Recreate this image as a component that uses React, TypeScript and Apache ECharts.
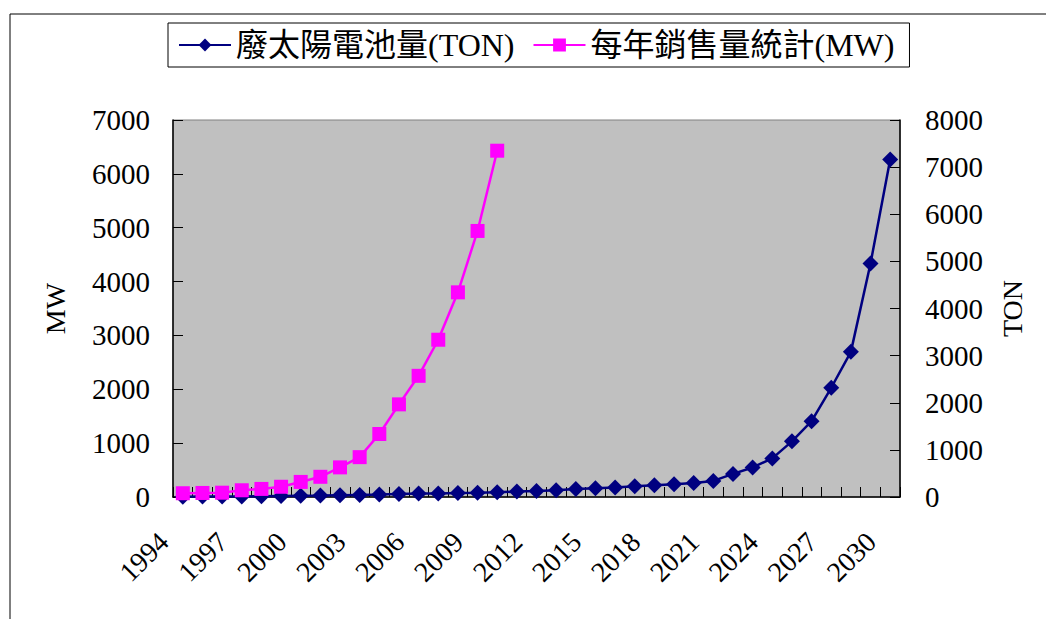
import React, { useEffect, useRef } from "react";
import * as echarts from "echarts";

const years: string[] = [
  "1994","1995","1996","1997","1998","1999","2000","2001","2002","2003",
  "2004","2005","2006","2007","2008","2009","2010","2011","2012","2013",
  "2014","2015","2016","2017","2018","2019","2020","2021","2022","2023",
  "2024","2025","2026","2027","2028","2029","2030",
];

// 每年銷售量統計 (MW), 1994-2010
const salesMW: number[] = [
  70, 75, 80, 125, 150, 190, 280, 375, 550, 740, 1170, 1720, 2250, 2920, 3800, 4940, 6430,
];

// 廢太陽電池量 (TON), 1994-2030
const wasteTON: number[] = [
  5, 8, 10, 12, 15, 20, 25, 30, 38, 45, 52, 62,
  72, 75, 85, 90, 100, 115, 128, 143, 171, 185, 200, 228,
  250, 271, 299, 341, 490, 627, 819, 1181, 1608, 2318, 3080, 4955, 7164,
];

const leftTicks = { min: 0, max: 7000, interval: 1000 };
const rightTicks = { min: 0, max: 8000, interval: 1000 };

const FONT = "'Liberation Serif', 'Times New Roman', 'Noto Sans CJK TC', serif";

export default function App() {
  const ref = useRef<HTMLDivElement>(null);
  useEffect(() => {
    if (!ref.current) return;
    const chart = echarts.init(ref.current, undefined, { renderer: "svg" });
    const axisLine = { show: true, lineStyle: { color: "#000", width: 1.5 } };
    const plain = (v: number) => String(v);
    chart.setOption({
      animation: false,
      textStyle: { fontFamily: FONT, color: "#000" },
      graphic: [
        { type: "line", shape: { x1: 2, y1: 6, x2: 1046, y2: 6 }, style: { stroke: "#000", lineWidth: 1 } },
        { type: "line", shape: { x1: 2, y1: 6, x2: 2, y2: 611 }, style: { stroke: "#000", lineWidth: 1 } },
      ],
      legend: {
        left: 160,
        top: 15,
        padding: [6, 15, 6, 10],
        backgroundColor: "#fff",
        borderColor: "#000",
        borderWidth: 1,
        itemWidth: 52,
        itemHeight: 16,
        itemGap: 18,
        textStyle: { fontFamily: FONT, fontSize: 32, color: "#000" },
        data: ["廢太陽電池量(TON)", "每年銷售量統計(MW)"],
      },
      grid: {
        left: 165,
        top: 112,
        right: 154,
        bottom: 122,
        show: true,
        backgroundColor: "#C0C0C0",
        borderColor: "#808080",
        borderWidth: 1,
      },
      xAxis: {
        type: "category",
        data: years,
        boundaryGap: true,
        axisLine,
        axisTick: { show: true, inside: true, length: 10, interval: 0, lineStyle: { color: "#000" } },
        axisLabel: {
          interval: 2,
          rotate: 45,
          margin: 21,
          padding: [0, 27, 0, 0],
          fontFamily: FONT,
          fontSize: 28,
          color: "#000",
        },
        splitLine: { show: false },
      },
      yAxis: [
        {
          type: "value",
          position: "left",
          ...leftTicks,
          name: "MW",
          nameLocation: "middle",
          nameRotate: 90,
          nameGap: 104,
          nameTextStyle: { fontFamily: FONT, fontSize: 28, color: "#000" },
          axisLine,
          axisTick: { show: true, inside: true, length: 10, lineStyle: { color: "#000" } },
          axisLabel: { margin: 23, fontFamily: FONT, fontSize: 29, color: "#000", formatter: plain },
          splitLine: { show: false },
        },
        {
          type: "value",
          position: "right",
          ...rightTicks,
          name: "TON",
          nameLocation: "middle",
          nameRotate: 90,
          nameGap: 98,
          nameTextStyle: { fontFamily: FONT, fontSize: 28, color: "#000" },
          axisLine,
          axisTick: { show: true, inside: true, length: 10, lineStyle: { color: "#000" } },
          axisLabel: { margin: 25, fontFamily: FONT, fontSize: 29, color: "#000", formatter: plain },
          splitLine: { show: false },
        },
      ],
      series: [
        {
          name: "廢太陽電池量(TON)",
          type: "line",
          yAxisIndex: 1,
          data: wasteTON,
          symbol: "diamond",
          symbolSize: 16,
          showAllSymbol: true,
          itemStyle: { color: "#000080" },
          lineStyle: { color: "#000080", width: 2.5 },
          clip: false,
        },
        {
          name: "每年銷售量統計(MW)",
          type: "line",
          yAxisIndex: 0,
          data: salesMW,
          symbol: "rect",
          symbolSize: 14,
          showAllSymbol: true,
          itemStyle: { color: "#FF00FF" },
          lineStyle: { color: "#FF00FF", width: 2.5 },
          clip: false,
        },
      ],
    });
    return () => chart.dispose();
  }, []);
  return <div ref={ref} style={{ width: 1046, height: 611 }} />;
}
